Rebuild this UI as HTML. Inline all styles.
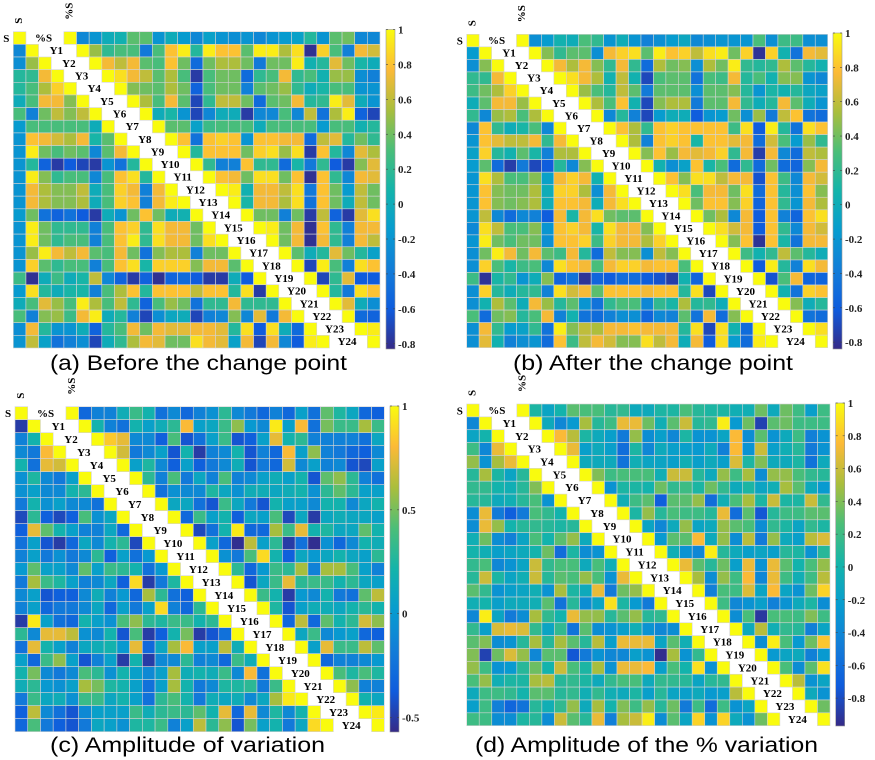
<!DOCTYPE html>
<html><head><meta charset="utf-8"><style>
html,body{margin:0;padding:0;background:#fff;}
svg{display:block;}
.lab{font-family:"Liberation Serif",serif;font-weight:bold;font-size:11px;fill:#000;}
.tick{font-family:"Liberation Serif",serif;font-weight:bold;font-size:11px;fill:#222;}
.ttl{font-family:"Liberation Sans",sans-serif;font-size:21px;fill:#000;}
</style></head><body>
<svg id="fig" width="875" height="760" viewBox="0 0 875 760" xmlns="http://www.w3.org/2000/svg"></svg>
<script>
// Row labels (shared)
const labels = ["%S","Y1","Y2","Y3","Y4","Y5","Y6","Y7","Y8","Y9","Y10","Y11","Y12","Y13","Y14","Y15","Y16","Y17","Y18","Y19","Y20","Y21","Y22","Y23","Y24"];
// Colorbar tick labels
const ticksA = [1,0.8,0.6,0.4,0.2,0,-0.2,-0.4,-0.6,-0.8];
const ticksB = [1,0.8,0.6,0.4,0.2,0,-0.2,-0.4,-0.6,-0.8];
const ticksC = [1,0.5,0,-0.5];
const ticksD = [1,0.8,0.6,0.4,0.2,0,-0.2,-0.4,-0.6,-0.8];
const rangeA = [-0.83,1], rangeB = [-0.84,1], rangeC = [-0.57,1], rangeD = [-0.97,1];
const titles = ["(a) Before the change point","(b) After the change point","(c) Amplitude of variation","(d) Amplitude of the % variation"];

// Panel (a) values: per row, the cells left of (and incl.) the diagonal, then the cells right of the label gap
const dataA = [
[1, 1,-0.3,-0.2,0,0.05,0.35,0.35,-0.2,0,-0.15,-0.3,-0.1,-0.2,-0.25,-0.2,-0.3,-0.2,-0.15,-0.1,0.15,-0.2,0.35,0.4,-0.3,-0.3],
[-0.3,1, 1,0.5,0.2,0.3,0.3,-0.4,0.3,0.8,0.95,0.15,0.95,0.8,0.8,0.35,0.95,0.95,0.55,0.9,-0.8,0.85,0.3,-0.35,0.75,0.65],
[-0.25,0.5,1, 1,0.75,0.6,0.75,0.35,0.3,0.8,0.4,-0.5,0.4,0.55,0.55,0.4,-0.4,0.4,0.4,0.95,0.05,0.15,0.7,0.4,0.1,0],
[0.15,0.2,0.75,1, 1,0.9,0.75,0.6,0.35,0.55,0.3,-0.75,0.3,0.4,0.4,-0.5,0.2,0.3,0.75,0.2,0.3,0.05,0.5,0.5,-0.25,-0.35],
[0.15,0.3,0.55,0.85,1, 1,0.45,0.4,0.35,0.55,0.4,-0.55,0.3,0.4,0.4,-0.35,0.35,0.4,0.5,0.2,0,0.1,0.3,0.3,-0.2,-0.2],
[0,0.3,0.75,0.75,0.45,1, 1,0.55,0.3,0.75,0.35,-0.7,0.2,0.6,0.6,0.4,-0.5,0.35,0.4,0.75,0.15,0.2,0.95,0.7,0,-0.2],
[0.3,-0.35,0.4,0.6,0.45,0.6,1, 1,0,0.1,-0.2,-0.7,-0.3,0,0,-0.75,-0.3,-0.3,0.3,-0.3,0.6,-0.45,0.55,0.95,-0.55,-0.7],
[-0.15,0.3,0.3,0.3,0.3,0.3,0,1, 1,0.35,0.35,-0.1,0.25,0.3,0.3,0.3,0,0.3,0.3,0.3,0.3,-0.15,0.3,0.3,0.05,0.15],
[-0.2,0.8,0.75,0.65,0.55,0.75,0.1,0.35,1, 1,0.8,-0.45,0.8,0.85,0.8,-0.2,0.8,0.8,0.75,0.75,-0.5,0.6,0.7,0.15,0.4,0.2],
[-0.2,0.95,0.4,0.3,0.4,0.35,-0.3,0.35,0.75,1, 1,0.15,0.8,0.8,0.8,0.4,0.85,0.9,0.5,0.9,-0.75,0.8,0.15,-0.3,0.7,0.55],
[-0.2,0.15,-0.55,-0.75,-0.6,-0.7,-0.75,-0.2,-0.45,0.15,1, 1,0.2,-0.35,-0.35,0.8,0.2,0.2,-0.5,0.1,-0.4,0.2,-0.6,-0.75,0.45,0.7],
[-0.2,0.95,0.45,0.2,0.3,0.3,-0.3,0.3,0.8,0.9,0.15,1, 1,0.8,0.75,0.4,0.9,0.9,0.4,0.8,-0.8,0.8,0.2,-0.3,0.75,0.7],
[-0.2,0.75,0.55,0.45,0.45,0.6,0,0.3,0.85,0.75,-0.35,0.75,1, 1,0.95,0.05,0.75,0.75,0.6,0.9,-0.4,0.8,0.4,-0.15,0.6,0.4],
[-0.2,0.75,0.55,0.45,0.45,0.55,0,0.3,0.85,0.8,-0.35,0.75,0.95,1, 1,0.1,0.75,0.75,0.55,0.9,-0.45,0.8,0.4,0,0.6,0.4],
[-0.15,0.4,-0.45,-0.55,-0.45,-0.6,-0.75,0,-0.2,0.4,0.8,0.4,0,0.05,1, 1,0.4,0.4,-0.35,0.4,-0.75,0.6,-0.55,-0.75,0.7,0.9],
[-0.2,0.95,0.4,0.2,0.2,0.2,-0.35,0.3,0.8,0.85,0.2,0.9,0.75,0.75,0.4,1, 1,0.95,0.4,0.75,-0.8,0.8,0.2,-0.35,0.75,0.75],
[-0.2,0.95,0.4,0.2,0.3,0.3,-0.35,0.3,0.8,0.95,0.2,0.9,0.75,0.75,0.4,0.9,1, 1,0.4,0.75,-0.8,0.75,0.2,-0.35,0.75,0.6],
[-0.2,0.5,0.95,0.75,0.6,0.75,0.35,0.3,0.75,0.4,-0.45,0.45,0.55,0.55,-0.35,0.4,0.4,1, 1,0.35,0,0.15,0.7,0.4,0.15,-0.1],
[-0.2,0.85,0.35,0.2,0.3,0.3,-0.35,0.3,0.8,0.9,0.1,0.85,0.85,0.85,0.45,0.75,0.75,0.35,1, 1,-0.7,0.95,0.3,-0.35,0.9,0.8],
[0.25,-0.8,0,0.25,0,0.1,0.6,-0.3,-0.55,-0.75,-0.55,-0.8,-0.55,-0.5,-0.6,-0.75,-0.75,0,-0.6,1, 1,-0.7,0.2,0.7,-0.6,-0.6],
[-0.15,0.9,0.15,0,0.1,0.1,-0.35,0.3,0.55,0.8,0.15,0.8,0.8,0.8,0.6,0.8,0.8,0.15,0.9,-0.75,1, 1,0.15,-0.4,0.9,0.8],
[0,0.3,0.7,0.5,0.3,0.95,0.55,0.3,0.6,0.2,-0.55,0.3,0.5,0.4,-0.45,0.2,0.2,0.75,0.2,0.2,0.2,1, 1,0.7,0,-0.25],
[0.3,-0.35,0.45,0.5,0.25,0.75,0.95,0,0.15,-0.35,-0.7,-0.25,-0.05,0,-0.7,-0.35,-0.3,0.45,-0.3,0.7,-0.4,0.75,1, 1,-0.5,-0.55],
[-0.25,0.75,0.15,-0.2,-0.2,0,-0.55,0.15,0.3,0.75,0.4,0.75,0.7,0.7,0.75,0.75,0.7,0.15,0.9,-0.6,0.9,0,-0.5,1, 1,0.95],
[-0.2,0.6,-0.1,-0.45,-0.35,-0.25,-0.7,0,0.2,0.55,0.75,0.7,0.4,0.4,0.9,0.75,0.7,-0.1,0.75,-0.7,0.75,-0.3,-0.6,0.95,1, 1]
];
const dataB = [
[1, 1,-0.25,-0.15,0.05,0,0.3,0.2,-0.2,0,-0.2,-0.35,-0.25,-0.15,-0.05,-0.3,-0.25,-0.2,-0.2,-0.2,0.3,-0.25,0.25,0.25,-0.25,-0.25],
[-0.15,1, 1,0.45,0.2,0.35,0.35,-0.25,0.75,0.85,0.9,0.35,0.95,0.8,0.85,0.6,0.9,0.95,0.4,0.85,-0.8,0.85,0.05,-0.45,0.75,0.7],
[-0.25,0.45,1, 1,0.75,0.55,0.75,0.45,0.2,0.75,0.2,-0.5,0.55,0.4,0.45,-0.25,0.55,0.4,0.95,0.2,0.15,0.2,0.55,0.35,0.15,0.05],
[0.2,0.2,0.75,1, 1,0.9,0.75,0.55,0.05,0.6,0.05,-0.7,0.3,0.35,0.35,-0.45,0.3,0.25,0.75,0.15,0.3,0.05,0.45,0.45,-0.2,-0.3],
[0.25,0.4,0.55,0.85,1, 1,0.5,0.3,0.15,0.6,0.35,-0.4,0.35,0.35,0.35,-0.25,0.35,0.35,0.45,0.15,-0.2,0.1,0.05,0.15,-0.05,-0.1],
[0,0.35,0.75,0.75,0.5,1, 1,0.55,0.3,0.8,0.05,-0.7,0.45,0.55,0.55,-0.4,0.35,0.35,0.75,0.2,0,0.15,0.75,0.35,0,-0.2],
[0.2,-0.3,0.5,0.55,0.3,0.55,1, 1,-0.3,0.15,-0.35,-0.7,-0.15,0,0,-0.6,-0.2,-0.15,0.4,-0.25,0.5,-0.4,0.6,0.8,-0.45,-0.5],
[-0.3,0.8,0.2,0,0.1,0.3,-0.3,1, 1,0.8,0.55,0.2,0.8,0.85,0.8,0.8,0.8,0.8,0.25,0.9,-0.6,0.95,0.15,-0.45,0.9,0.8],
[-0.2,0.8,0.7,0.6,0.6,0.75,0.2,0.75,1, 1,0.55,-0.35,0.8,0.85,0.8,0.1,0.8,0.8,0.7,0.75,-0.5,0.65,0.3,-0.15,0.5,0.2],
[-0.1,0.85,0.15,0.05,0.35,0.1,-0.35,0.55,0.55,1, 1,0.45,0.8,0.5,0.75,0.7,0.75,0.85,0.2,0.75,-0.75,0.75,-0.3,-0.5,0.6,0.55],
[-0.15,0.35,-0.5,-0.75,-0.4,-0.7,-0.6,0.15,-0.3,0.45,1, 1,0.05,-0.25,-0.1,0.8,0.1,0.3,-0.5,0.2,-0.5,0.4,-0.5,-0.55,0.45,0.75],
[-0.2,0.9,0.55,0.3,0.3,0.45,-0.1,0.75,0.85,0.75,0.05,1, 1,0.8,0.45,0.9,0.9,0.6,0.75,0.75,-0.65,0.8,0.25,-0.3,0.75,0.65],
[-0.2,0.8,0.45,0.4,0.4,0.55,0,0.85,0.85,0.55,-0.25,0.75,1, 1,0.9,0.3,0.75,0.75,0.4,0.9,-0.5,0.8,0.15,-0.25,0.8,0.45],
[-0.2,0.8,0.45,0.4,0.45,0.55,0,0.8,0.8,0.75,0,0.75,0.9,1, 1,0.4,0.8,0.8,0.45,0.85,-0.55,0.8,0.2,-0.2,0.75,0.55],
[-0.2,0.6,-0.3,-0.5,-0.3,-0.35,-0.6,0.75,0.1,0.75,0.9,0.4,0.35,0.35,1, 1,0.4,0.55,-0.3,0.75,-0.6,0.8,-0.35,-0.55,0.8,0.9],
[-0.3,0.9,0.6,0.3,0.3,0.45,-0.2,0.8,0.85,0.75,0.1,0.9,0.75,0.75,0.45,1, 1,0.9,0.65,0.75,-0.6,0.8,0.2,-0.3,0.75,0.65],
[-0.2,0.95,0.4,0.3,0.4,0.4,-0.25,0.8,0.8,0.85,0.25,0.85,0.75,0.75,0.55,0.85,1, 1,0.45,0.8,-0.8,0.8,0.1,-0.45,0.75,0.75],
[-0.25,0.4,0.95,0.75,0.4,0.75,0.35,0.25,0.75,0.15,-0.5,0.6,0.45,0.45,-0.25,0.6,0.45,1, 1,0.25,0.05,0.2,0.6,0.35,0.15,0],
[-0.25,0.85,0.3,0.1,0.25,0.3,-0.3,0.9,0.8,0.75,0.3,0.75,0.85,0.85,0.75,0.8,0.8,0.3,1, 1,-0.6,0.95,0.15,-0.35,0.9,0.75],
[0.25,-0.8,0.1,0.2,-0.2,0,0.45,-0.55,-0.45,-0.8,-0.55,-0.6,-0.5,-0.5,-0.6,-0.65,-0.75,0.05,-0.55,1, 1,-0.65,0.3,0.75,-0.55,-0.55],
[-0.25,0.85,0.15,0,0.15,0.2,-0.35,0.9,0.65,0.75,0.35,0.8,0.8,0.8,0.75,0.8,0.8,0.15,0.9,-0.7,1, 1,0.05,-0.45,0.85,0.8],
[-0.25,0.05,0.55,0.35,0,0.75,0.5,0.15,0.35,-0.2,-0.45,0.2,0.3,0.3,-0.3,0.2,0.1,0.55,0.15,0.2,0,1, 1,0.45,0,0.15],
[0.3,-0.5,0.4,0.45,0.15,0.3,0.75,-0.35,0.05,-0.45,-0.5,-0.35,-0.25,-0.25,-0.55,-0.3,-0.35,0.35,-0.45,0.75,-0.5,0.45,1, 1,-0.45,-0.5],
[-0.25,0.75,0.2,-0.15,-0.1,0.2,-0.45,0.95,0.45,0.6,0.55,0.75,0.75,0.8,0.75,0.75,0.75,0.15,0.9,-0.7,0.9,0.05,-0.5,1, 1,0.9],
[-0.25,0.7,0.05,-0.35,-0.25,-0.2,-0.5,0.8,0.25,0.6,0.75,0.65,0.45,0.45,0.9,0.6,0.75,0,0.75,-0.6,0.9,-0.15,-0.5,0.95,1, 1]
];
const dataC = [
[1, 1,-0.3,-0.15,-0.15,0.15,0.35,0.2,-0.25,-0.1,-0.3,-0.15,-0.05,0.3,-0.1,-0.2,-0.3,-0.15,-0.3,0.05,-0.25,0.45,0.25,0.1,-0.3,-0.35],
[-0.5,1, 1,0.2,-0.15,-0.25,0.2,0.05,0.15,0.3,0.8,0.05,0.1,0.35,0.55,0,-0.1,0.95,0.05,0.8,-0.25,0.5,0.35,0.35,0.6,0.35],
[-0.15,0.2,1, 1,0.85,0.75,-0.1,-0.1,-0.35,0.4,-0.4,-0.25,0.05,0.35,-0.4,-0.35,0.05,0.75,0.2,0.3,-0.15,-0.15,-0.15,-0.15,-0.25,0.1],
[-0.1,-0.2,0.8,1, 1,0.7,-0.2,-0.1,0.05,-0.4,0.2,-0.5,-0.15,-0.1,0.2,-0.4,-0.15,-0.3,0.8,0.05,0.55,-0.15,-0.2,-0.3,-0.35,-0.1],
[0.2,-0.25,0.75,0.7,1, 1,0.05,0.25,-0.1,-0.35,0.05,-0.35,-0.2,-0.1,0.15,-0.4,-0.2,-0.3,0.7,-0.1,0.05,-0.15,-0.1,-0.4,-0.45,0.05],
[-0.05,0.25,-0.1,-0.2,0.05,1, 1,0.3,-0.15,0.4,-0.2,0.1,-0.15,0.4,-0.15,-0.1,0.05,0.15,0.05,0.2,-0.4,0.45,0.55,0.3,-0.15,-0.25],
[-0.05,0.05,-0.1,-0.1,0.2,0.3,1, 1,-0.25,-0.05,-0.1,-0.1,0.25,0.1,-0.05,0.15,0.15,0.1,0.15,0.2,-0.05,0.3,0.45,0.3,0.05,0.05],
[-0.2,0.2,-0.05,0.05,-0.1,-0.1,-0.25,1, 1,0.1,0.1,-0.25,-0.4,0.35,0.1,-0.2,-0.4,0.2,0.05,0.05,-0.1,0.2,0.2,-0.1,0.1],
[-0.45,0.3,-0.35,-0.45,-0.35,0.4,-0.05,0.1,1, 1,-0.3,0.35,0.05,0.2,-0.35,0.1,0.05,0.4,-0.45,0.1,-0.5,0.1,0.15,0.1,0.1,0.05],
[-0.35,0.75,0.45,0.2,0.05,-0.15,-0.15,0.1,-0.3,1, 1,-0.45,-0.25,0.2,0.95,-0.3,-0.3,0.6,0.35,0.75,0.2,0.25,0.1,0.1,0.45,0.2],
[-0.25,0.05,-0.4,-0.5,-0.3,0.1,-0.1,0.2,0.3,-0.45,1, 1,0.05,-0.3,-0.55,0.65,0.05,0.3,-0.5,-0.25,-0.55,-0.05,-0.3,-0.1,0.2,0.15],
[-0.15,0.05,-0.2,-0.05,-0.2,-0.1,0.3,-0.35,0.05,-0.25,0,1, 1,-0.05,-0.2,0.4,0.9,0.2,-0.35,0.1,0,0.1,0.2,0.1,0.05,0.3],
[0,0.45,0.05,0.05,-0.1,0.45,0.05,0.35,0.3,0.2,-0.25,0,1, 1,0.3,-0.3,0,0.35,0.3,0.6,-0.15,0.6,0.6,0.4,0.05,-0.15],
[-0.2,0.6,0.35,0.25,0.05,-0.15,-0.1,0.1,-0.35,0.9,-0.5,-0.2,0.25,1, 1,-0.4,0.1,0.35,0.75,0.3,0.35,0.35,0.2,0.3,0.1,0.05],
[-0.1,0.05,-0.4,-0.35,-0.35,-0.1,0.15,-0.15,0,-0.3,0.6,0.3,-0.25,-0.35,1, 1,0.35,0.2,-0.5,0,-0.1,0.2,-0.2,-0.25,0.45,0.65],
[-0.15,0.05,-0.3,-0.2,-0.2,-0.1,0.1,-0.3,0.05,-0.2,0.05,0.9,-0.15,-0.3,0.3,1, 1,0.25,-0.4,0.05,0.15,0.15,0.1,0.2,0.3],
[-0.5,0.95,0.05,-0.25,-0.3,0.2,0.05,-0.05,0.4,0.55,0.3,0.25,0.35,0.35,0.2,0.3,1, 1,-0.3,0.65,-0.3,0.45,0.2,0.3,0.7,0.55],
[0.3,-0.1,0.75,0.75,0.65,-0.05,-0.1,0.2,-0.4,0.4,-0.5,-0.35,0.2,0.5,-0.5,-0.4,-0.25,1, 1,0.1,0.35,-0.1,0,0.05,-0.3,-0.35],
[-0.25,0.75,0.2,0.05,-0.15,0.1,0.15,0.2,0,0.75,-0.3,0.1,0.6,0.8,0.05,0.05,0.65,0.15,1, 1,0.05,0.75,0.35,0.35,0.65,0.45],
[0.05,-0.3,0.35,0.55,0.05,-0.4,-0.15,0.05,-0.5,0.2,-0.5,-0.1,-0.1,0.3,-0.15,-0.1,-0.3,0.35,0.15,1, 1,-0.3,-0.15,-0.15,-0.1,0],
[0.2,0.5,-0.1,-0.2,-0.1,0.4,0.3,-0.05,0.2,0.05,-0.1,0.05,0.6,0.15,0.2,0.15,0.35,-0.1,0.8,-0.25,1, 1,0.4,0.25,0.4,0.25],
[0.15,0.3,0,-0.05,0.05,0.6,0.5,0.25,0.2,0.05,-0.25,0.05,0.6,0.2,-0.2,-0.1,0.25,0.25,0.3,-0.2,0.35,1, 1,0.55,-0.15,-0.15],
[-0.2,0.35,0.1,0.15,-0.05,0.35,0.35,0.1,0.2,0.05,-0.25,0.3,0.4,0.2,-0.2,0.15,0.1,0.15,-0.1,0.1,0.6,0.95,1, 1,0.2,0.1],
[-0.35,0.65,-0.1,-0.25,-0.4,-0.1,0.05,0.05,0.05,0.35,0.15,0.3,0.35,0.3,0.45,0.2,0.75,-0.3,0.75,-0.1,0.25,-0.1,0.2,1, 1,0.95],
[-0.3,0.4,-0.2,-0.35,-0.4,-0.2,0.1,0.05,-0.05,0.25,0.25,0.35,-0.15,0.05,0.65,0.3,0.55,-0.4,0.5,0.05,0.2,-0.2,0.1,0.9,1, 1]
];
const dataD = [
[1, 1,0.05,-0.15,0,0.3,0.25,0.25,0.1,0.15,-0.1,-0.1,0.05,0.05,0.25,0.1,0.05,0.05,-0.05,-0.05,0.35,-0.1,0.35,0.2,-0.2,0.2],
[-0.4,1, 1,-0.1,-0.4,-0.25,0.5,0.1,0.2,0.7,0.7,0.35,-0.05,0.3,0.6,0.1,0.15,0.95,-0.25,0.35,-0.85,0.3,0.35,0.2,0.2,0.2],
[-0.15,0,1, 1,0.75,0.55,0.05,-0.1,-0.2,-0.5,0.45,-0.35,-0.2,-0.4,0.05,-0.3,-0.3,-0.15,0.75,-0.35,0.3,-0.3,-0.1,0.2,-0.45,-0.3],
[0.2,-0.4,0.7,1, 1,0.7,-0.2,-0.1,-0.2,-0.6,0.05,-0.4,-0.1,-0.2,-0.2,-0.25,-0.1,-0.45,0.75,-0.3,0.6,-0.2,-0.05,0.1,-0.5,-0.3],
[0.45,-0.3,0.5,0.7,1, 1,-0.1,-0.1,-0.1,-0.55,-0.05,-0.15,-0.15,-0.2,-0.05,-0.2,-0.1,-0.2,0.65,0.05,0.4,-0.1,-0.1,0.05,-0.55,-0.1],
[0.1,0.5,0.05,-0.15,0.1,1, 1,0.4,0.2,0.25,0.25,0.25,-0.05,0.6,0.6,0.1,-0.1,0.45,0.2,0.5,-0.35,0.45,0.45,0.25,0.15,0.1],
[0.15,0.15,0,-0.05,0.1,0.4,1, 1,-0.3,0.05,0.05,0,0.35,0.15,0.2,0.05,0.35,0.15,-0.1,0.05,-0.15,-0.05,0.5,0.3,-0.1,-0.25],
[0.1,0.1,-0.1,-0.05,0.1,0.25,-0.3,1, 1,-0.05,0.2,0.3,-0.7,0.3,0.3,0.45,-0.6,-0.05,0.25,0.5,0.05,0.6,0.05,0.05,0.6,0.15],
[-0.35,0.7,-0.5,-0.7,-0.5,0.25,0.15,0,1, 1,0.05,0.45,0.1,0.25,0.2,0.2,0.1,0.7,-0.6,0.3,-0.75,0.1,0.2,0.2,0.3,0.3],
[-0.35,0.7,0.45,0,0.1,0.15,0.1,0.05,0.1,1, 1,-0.15,-0.4,-0.1,0.45,-0.15,-0.1,0.45,0.3,0.25,-0.35,0.15,0.05,-0.15,0.15,0.05],
[-0.05,0.35,-0.35,-0.45,-0.15,0.25,0,0.3,0.45,-0.1,1, 1,-0.25,0.3,0.3,0.75,-0.1,0.45,-0.35,0.55,-0.5,0.45,-0.1,-0.2,0.55,0.65],
[0,-0.05,-0.2,-0.15,-0.1,0,0.35,-0.6,0.05,-0.35,-0.3,1, 1,-0.05,-0.3,-0.4,0.95,0.1,-0.1,-0.2,-0.15,-0.2,0.1,0.05,-0.3,0.1],
[0.15,0.25,-0.4,-0.3,-0.15,0.6,0.15,0.25,0.25,-0.1,0.25,-0.05,1, 1,0.7,0.3,0.1,0.35,-0.2,0.7,-0.3,0.7,0.3,0,0.25,0.45],
[0.1,0.6,0.05,-0.15,-0.05,0.6,0.1,0.3,0.25,0.45,0.25,-0.3,0.7,1, 1,0.5,-0.35,0.45,0.2,0.75,-0.4,0.7,0.2,-0.05,0.2,0.55],
[0.3,0.15,-0.3,-0.2,-0.15,-0.05,-0.3,0.5,0.05,-0.1,0.7,-0.5,0.35,0.45,1, 1,-0.45,0.25,0.2,0.65,-0.15,0.75,-0.15,-0.3,0.35,0.85],
[-0.05,0,-0.2,-0.1,-0.1,-0.05,0.3,-0.55,0.1,-0.35,-0.15,0.9,0.05,-0.25,-0.5,1, 1,0.2,-0.4,-0.3,-0.2,-0.45,-0.3,-0.1,0.05,-0.35],
[-0.4,0.95,-0.15,-0.5,-0.35,0.5,0.15,0,0.7,0.45,0.45,0.1,0.3,0.45,0.1,0.15,1, 1,-0.35,0.25,-0.9,0.25,0.25,0.2,0.4,0.2],
[0.15,-0.2,0.65,0.7,0.65,0.15,-0.15,0.15,-0.55,0.3,-0.35,-0.3,-0.2,-0.05,-0.3,-0.4,-0.35,1, 1,-0.1,0.55,-0.05,0.15,0.1,-0.45,-0.15],
[0.3,0.4,-0.35,-0.3,0.1,0.5,0.1,0.5,0.3,0.1,0.55,-0.2,0.7,0.7,0.7,-0.15,0.3,-0.05,1, 1,-0.35,0.95,0.25,-0.25,0.35,0.8],
[0.4,-0.85,0.35,0.65,0.45,-0.4,0.3,0.3,-0.75,-0.5,-0.3,-0.4,-0.4,-0.2,-0.3,-0.95,0.5,-0.3,0.15,1, 1,-0.25,-0.15,-0.1,-0.45,-0.25],
[0.45,0.2,-0.3,-0.25,0.1,0.35,0,0.6,0.25,0.05,0.5,-0.3,0.7,0.7,0.75,-0.2,0.25,0,0.9,-0.3,1, 1,0.25,-0.35,0.3,0.9],
[0.25,0.45,-0.05,0.05,0.05,0.5,0.55,0.1,0.15,0.05,-0.1,0.15,0.25,0.25,-0.1,0.15,0.15,0.1,-0.15,0.1,0.15,1, 1,0.55,-0.3,-0.15],
[-0.1,0.2,0.2,0.15,0,0.3,0.3,0.1,0.15,-0.05,0.15,-0.05,-0.1,0.05,-0.2,0.1,-0.15,-0.2,-0.1,-0.25,-0.2,0.55,1, 1,-0.1,-0.3],
[-0.2,0.2,-0.45,-0.65,-0.55,0.1,-0.05,0.15,0.45,-0.1,0.5,0,0.4,0.2,0.45,0.1,0.35,-0.5,0.2,-0.6,0.2,-0.3,-0.15,1, 1,0.35],
[0.2,0.2,-0.35,-0.35,0.05,0.1,-0.35,0.6,0.3,0.1,0.7,-0.45,0.5,0.6,0.95,-0.35,0.3,-0.15,0.85,-0.3,0.85,-0.1,-0.3,0.35,1, 1]
];

const NS="http://www.w3.org/2000/svg";
const svg=document.getElementById('fig');
const parula=[[53,42,135],[15,92,221],[18,125,216],[7,156,207],[20,180,170],[75,190,120],[170,190,60],[252,186,55],[249,251,14]];
function cmap(t){t=Math.max(0,Math.min(1,t));const p=t*(parula.length-1);const i=Math.min(parula.length-2,Math.floor(p));const f=p-i;
 const c=parula[i].map((v,k)=>Math.round(v+(parula[i+1][k]-v)*f));return `rgb(${c[0]},${c[1]},${c[2]})`;}
function mk(tag,attrs,parent){const e=document.createElementNS(NS,tag);for(const k in attrs)e.setAttribute(k,attrs[k]);(parent||svg).appendChild(e);return e;}

function drawPanel(id,rows,range,ticks,title,g){
  const panel=mk('g',{});
  
  
  const NC=29,NR=25;
  const cw=(g.x1-g.x0)/NC, ch=(g.y1-g.y0)/NR;
  const xOf=c=>g.x0+c*cw, yOf=r=>g.y0+r*ch;
  const tOf=v=>(v-range[0])/(range[1]-range[0]);
  for(let r=0;r<NR;r++){
    let vals=(rows[r]||[]).slice(0,26);
    while(vals.length<26)vals.push(0.2);
    vals.forEach((v,k)=>{
      const c=k<=r?k:k+3;
      const rc=mk('rect',{x:xOf(c).toFixed(2),y:yOf(r).toFixed(2),width:cw.toFixed(2),height:ch.toFixed(2),fill:cmap(tOf(v)),stroke:'#d4d4d4','stroke-width':0.6},panel);
      
      
    });
    const lt=mk('text',{x:(xOf(r+2)+cw*0.4).toFixed(1),y:(yOf(r)+ch*0.78).toFixed(1),'text-anchor':'middle',class:'lab'},panel);
    lt.textContent=labels[r];
    
    
  }
  const ls=mk('text',{x:g.x0-10,y:yOf(0)+ch*0.8,class:'lab','font-size':'12'},panel);ls.textContent='S';
  
  
  const ts=mk('text',{transform:`translate(${(xOf(0)+cw*0.7).toFixed(1)},${g.y0-8}) rotate(-90)`,class:'lab'},panel);ts.textContent='S';
  
  
  const tp=mk('text',{transform:`translate(${(xOf(4)+cw*0.7).toFixed(1)},${g.y0-12}) rotate(-90)`,class:'lab'},panel);tp.textContent='%S';
  
  
  const gid='grad'+id;
  const defs=mk('defs',{},panel);
  const lg=mk('linearGradient',{id:gid,x1:0,y1:1,x2:0,y2:0},defs);
  for(let i=0;i<=16;i++){mk('stop',{offset:(i/16),'stop-color':cmap(i/16)},lg);}
  const cb=mk('rect',{x:g.cbx,y:g.cby0,width:9,height:g.cby1-g.cby0,fill:`url(#${gid})`,stroke:'#999','stroke-width':0.6},panel);
  
  
  const yV=v=>g.cby1-(v-range[0])/(range[1]-range[0])*(g.cby1-g.cby0);
  ticks.forEach(v=>{
    const y=yV(v);
    mk('line',{x1:g.cbx,x2:g.cbx+2,y1:y,y2:y,stroke:'#444','stroke-width':0.6},panel);
    mk('line',{x1:g.cbx+7,x2:g.cbx+9,y1:y,y2:y,stroke:'#444','stroke-width':0.6},panel);
    const t=mk('text',{x:g.cbx+12,y:y+4,class:'tick'},panel);
    t.textContent=String(v);
    
    
  });
  const tt=mk('text',{x:g.tx0,y:g.ty,class:'ttl',textLength:g.tw,lengthAdjust:'spacingAndGlyphs'},panel);
  tt.textContent=title;
  
  
}
drawPanel('a',dataA,rangeA,ticksA,titles[0],{x0:13.3,x1:380,y0:31.7,y1:348,cbx:386,cby0:29.5,cby1:349,tx0:50,ty:370,tw:297});
drawPanel('b',dataB,rangeB,ticksB,titles[1],{x0:466.7,x1:827.7,y0:34.3,y1:347.7,cbx:833,cby0:33,cby1:349,tx0:513,ty:370,tw:280});
drawPanel('c',dataC,rangeC,ticksC,titles[2],{x0:15,x1:384.3,y0:406.7,y1:731.7,cbx:390,cby0:406,cby1:732,tx0:50,ty:752,tw:275});
drawPanel('d',dataD,rangeD,ticksD,titles[3],{x0:466.7,x1:830,y0:404,y1:725.7,cbx:835.7,cby0:403,cby1:726,tx0:475,ty:752,tw:343});
</script>
</body></html>
